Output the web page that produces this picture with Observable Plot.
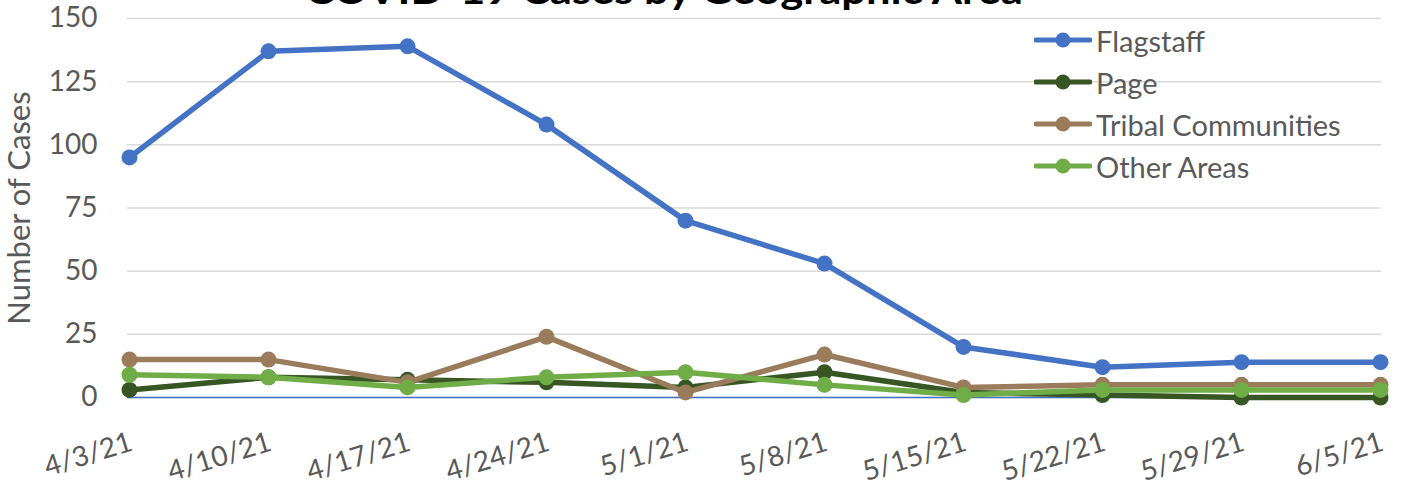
<!DOCTYPE html>
<html><head><meta charset="utf-8">
<script src="https://cdn.jsdelivr.net/npm/d3@7"></script>
<script src="https://cdn.jsdelivr.net/npm/@observablehq/plot@0.6"></script>
<style>
body{margin:0;background:#fff;overflow:hidden}
#wrap{position:relative;width:1411px;height:491px;overflow:hidden;font-family:Lato,sans-serif}
#chart{position:absolute;left:0;top:0}
#title{position:absolute;left:0;top:0}
#legend{position:absolute;left:1034px;top:19px}
.row{display:flex;align-items:center;height:42px;font-size:29px;color:#595959;white-space:nowrap}
.row svg{margin-right:4px}
</style></head>
<body>
<div id="wrap"><div id="chart"></div>
<svg id="title" width="1411" height="20"><text x="664" y="4" text-anchor="middle" font-family="Lato, sans-serif" font-weight="bold" font-size="38" fill="#000" textLength="718" lengthAdjust="spacingAndGlyphs">COVID-19 Cases by Geographic Area</text></svg>
<div id="legend"></div></div>
<script>
const dates = ["4/3/21","4/10/21","4/17/21","4/24/21","5/1/21","5/8/21","5/15/21","5/22/21","5/29/21","6/5/21"];
const flagstaff = [95,137,139,108,70,53,20,12,14,14];
const page = [3,8,7,6,4,10,2,1,0,0];
const tribal = [15,15,6,24,2,17,4,5,5,5];
const other = [9,8,4,8,10,5,1,3,3,3];
const seriesNames = ["Flagstaff","Page","Tribal Communities","Other Areas"];
const seriesColors = ["#4472C4","#375623","#9A7C5C","#70AD47"];
const yTicks = [0,25,50,75,100,125,150];

const values = [flagstaff, page, tribal, other];
const data = seriesNames.map((s,i)=>dates.map((d,j)=>({series:s,date:d,value:values[i][j]})));

const plot = Plot.plot({
  width:1411, height:491,
  marginLeft:127, marginRight:30, marginTop:18, marginBottom:94,
  x:{type:"point", domain:dates, padding:0, axis:null},
  y:{domain:[0,150], axis:null},
  color:{domain:seriesNames, range:seriesColors},
  style:{fontFamily:"Lato, sans-serif", fontSize:"28px", color:"#595959", background:"#fff"},
  marks:[
    Plot.gridY(yTicks,{stroke:"#D9D9D9", strokeOpacity:1, strokeWidth:1.5}),
    Plot.ruleY([0],{stroke:"#4472C4", strokeWidth:1.5}),
    ...data.flatMap(d=>[
      Plot.line(d,{x:"date", y:"value", stroke:"series", strokeWidth:5.5, strokeLinejoin:"round", strokeLinecap:"round"}),
      Plot.dot(d,{x:"date", y:"value", fill:"series", r:8})
    ]),
    Plot.text(yTicks,{y:d=>d, text:d=>String(d), frameAnchor:"left", dx:-30, textAnchor:"end", fill:"#595959", fontSize:28}),
    Plot.text(dates,{x:d=>d, text:d=>d, frameAnchor:"bottom", dy:44, dx:2, rotate:-17, textAnchor:"end", lineAnchor:"middle", fill:"#595959", fontSize:28}),
    Plot.text(["Number of Cases"],{frameAnchor:"left", dx:-107, rotate:-90, textAnchor:"middle", lineAnchor:"middle", fill:"#595959", fontSize:31})
  ]
});
document.getElementById("chart").appendChild(plot);

const legend = document.getElementById("legend");
seriesNames.forEach((s,i)=>{
  const row = document.createElement("div");
  row.className = "row";
  row.innerHTML = `<svg width="58" height="20"><line x1="2" y1="10" x2="56" y2="10" stroke="${seriesColors[i]}" stroke-width="5" stroke-linecap="round"/><circle cx="29" cy="10" r="7.5" fill="${seriesColors[i]}"/></svg><span>${s}</span>`;
  legend.appendChild(row);
});
</script>
</body></html>
